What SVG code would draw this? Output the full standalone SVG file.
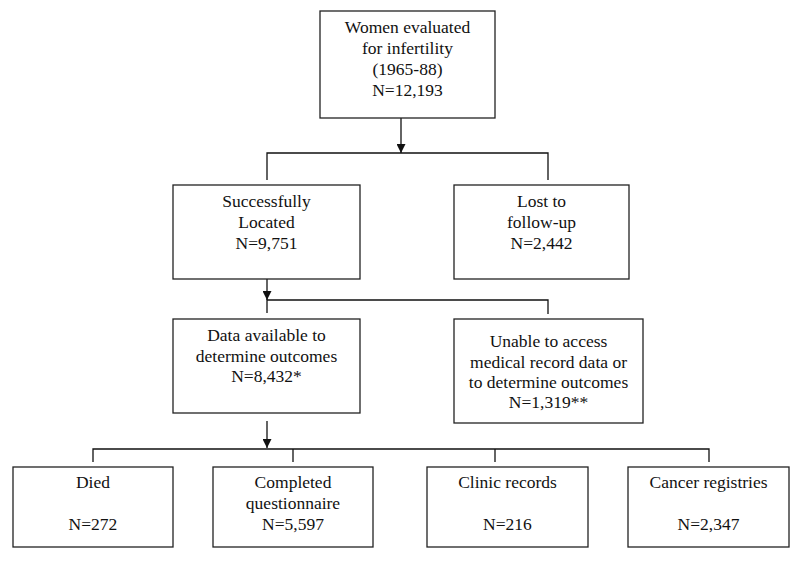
<svg xmlns="http://www.w3.org/2000/svg" width="800" height="561" viewBox="0 0 800 561">
<style>
.box{fill:#fff;stroke:#222;stroke-width:1.3}
.t{font-family:"Liberation Serif","Times New Roman",serif;font-size:17.5px;fill:#111;text-anchor:middle}
.c{fill:none;stroke:#111;stroke-width:1.3}
</style>
<defs>
<marker id="ah" markerUnits="userSpaceOnUse" viewBox="0 0 10 10" refX="10" refY="5" markerWidth="10" markerHeight="9" orient="auto">
<path d="M0,0 L10,5 L0,10 z" fill="#111"/>
</marker>
</defs>
<rect width="800" height="561" fill="#fff"/>
<g id="connectors">
<line class="c" x1="401" y1="118" x2="401" y2="153" marker-end="url(#ah)"/>
<polyline class="c" points="267,180 267,153 548,153 548,180"/>
<line class="c" x1="267" y1="279" x2="267" y2="300" marker-end="url(#ah)"/>
<polyline class="c" points="267,313 267,300 548,300 548,314"/>
<line class="c" x1="267" y1="421" x2="267" y2="448" marker-end="url(#ah)"/>
<polyline class="c" points="93,462 93,449 709,449 709,462"/>
<line class="c" x1="293" y1="449" x2="293" y2="462"/>
<line class="c" x1="495" y1="449" x2="495" y2="462"/>
</g>
<g id="n-women">
<rect class="box" x="320" y="11" width="175" height="107"/>
<text class="t" x="407.5" y="33">Women evaluated</text>
<text class="t" x="407.5" y="54">for infertility</text>
<text class="t" x="407.5" y="75">(1965-88)</text>
<text class="t" x="407.5" y="96">N=12,193</text>
</g>
<g id="n-located">
<rect class="box" x="173" y="185" width="187" height="94"/>
<text class="t" x="266.5" y="207">Successfully</text>
<text class="t" x="266.5" y="228">Located</text>
<text class="t" x="266.5" y="249">N=9,751</text>
</g>
<g id="n-lost">
<rect class="box" x="454" y="185" width="175" height="94"/>
<text class="t" x="541.5" y="207">Lost to</text>
<text class="t" x="541.5" y="228">follow-up</text>
<text class="t" x="541.5" y="249">N=2,442</text>
</g>
<g id="n-data">
<rect class="box" x="173" y="319" width="187" height="94"/>
<text class="t" x="266.5" y="341">Data available to</text>
<text class="t" x="266.5" y="362">determine outcomes</text>
<text class="t" x="266.5" y="382">N=8,432*</text>
</g>
<g id="n-unable">
<rect class="box" x="454" y="319" width="189" height="104"/>
<text class="t" x="548.5" y="347">Unable to access</text>
<text class="t" x="548.5" y="368">medical record data or</text>
<text class="t" x="548.5" y="388">to determine outcomes</text>
<text class="t" x="548.5" y="408">N=1,319**</text>
</g>
<g id="n-died">
<rect class="box" x="13" y="467" width="160" height="80"/>
<text class="t" x="93" y="488">Died</text>
<text class="t" x="93" y="530">N=272</text>
</g>
<g id="n-questionnaire">
<rect class="box" x="213" y="467" width="160" height="80"/>
<text class="t" x="293" y="488">Completed</text>
<text class="t" x="293" y="509">questionnaire</text>
<text class="t" x="293" y="530">N=5,597</text>
</g>
<g id="n-clinic">
<rect class="box" x="427" y="467" width="161" height="80"/>
<text class="t" x="507.5" y="488">Clinic records</text>
<text class="t" x="507.5" y="530">N=216</text>
</g>
<g id="n-cancer">
<rect class="box" x="628" y="467" width="161" height="80"/>
<text class="t" x="708.5" y="488">Cancer registries</text>
<text class="t" x="708.5" y="530">N=2,347</text>
</g>
</svg>
